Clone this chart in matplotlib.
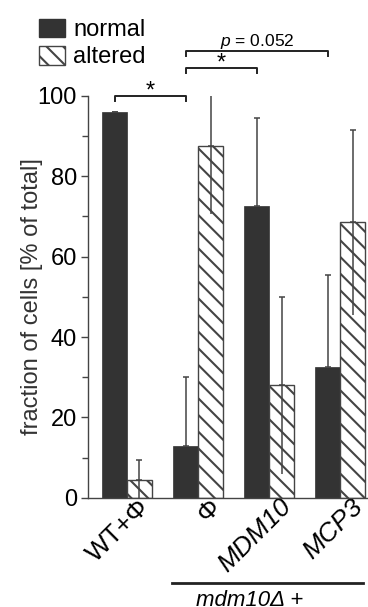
import matplotlib
matplotlib.use("Agg")
import matplotlib.pyplot as plt
import numpy as np
from matplotlib.patches import Patch

# --- DATA ---
groups = ["WT+Φ", "Φ", "MDM10", "MCP3"]
normal = [96, 13, 72.5, 32.5]
altered = [4.5, 87.5, 28, 68.5]
normal_err = [0, 17, 22, 23]
altered_err = [5, 17, 22, 23]

plt.rcParams['font.family'] = ['Liberation Sans', 'DejaVu Sans']
plt.rcParams['mathtext.fontset'] = 'custom'
plt.rcParams['mathtext.it'] = 'Liberation Sans:italic'
plt.rcParams['mathtext.rm'] = 'Liberation Sans'
plt.rcParams['hatch.linewidth'] = 1.5

fig = plt.figure(figsize=(3.68, 6.07), dpi=100)
ax = fig.add_axes([0.239, 0.18, 0.761, 0.662])

x = np.arange(len(groups))
w = 0.35
dark = "#333333"
edge = "#444444"
HATCH = "\\\\"

ax.bar(x - w / 2, normal, w, color=dark, edgecolor=dark, linewidth=0.5, zorder=2)
ax.bar(x + w / 2, altered, w, color="white", edgecolor=edge, hatch=HATCH,
       linewidth=1.0, zorder=2)

# error bars: upper half with a cap; lower half only shows on the hatched bars
ne = np.array(normal_err)
ae = np.array(altered_err)
ax.errorbar(x - w / 2, normal, yerr=[np.zeros_like(ne), ne], fmt="none", ecolor="#444444",
            elinewidth=1.1, capsize=2, capthick=1.1, zorder=3)
ax.errorbar(x + w / 2, altered, yerr=[np.zeros_like(ae), ae], fmt="none", ecolor="#444444",
            elinewidth=1.1, capsize=2, capthick=1.1, zorder=3)
ax.errorbar(x + w / 2, altered, yerr=[ae, np.zeros_like(ae)], fmt="none", ecolor="#444444",
            elinewidth=1.1, capsize=0, zorder=3)

ax.set_xlim(-0.55, 3.39)
ax.set_ylim(0, 100)
ax.set_yticks([0, 20, 40, 60, 80, 100])
ax.set_yticks([10, 30, 50, 70, 90], minor=True)
ax.tick_params(axis="y", labelsize=17, length=5, width=1.0, color="#444444", pad=3)
ax.tick_params(axis="y", which="minor", length=4, width=1.0, color="#444444")
ax.set_ylabel("fraction of cells [% of total]", fontsize=17, color="#333333")
ax.yaxis.set_label_coords(-0.16, 0.5)

ax.set_xticks(x + 0.26)
ax.set_xticklabels(groups, rotation=45, ha="right", va="center",
                   rotation_mode="anchor", fontsize=19)
for lab in ax.get_xticklabels()[2:]:
    lab.set_style("italic")
ax.tick_params(axis="x", length=0, pad=4)

for s in ["top", "right"]:
    ax.spines[s].set_visible(False)
ax.spines["left"].set_bounds(0, 100)
for s in ["left", "bottom"]:
    ax.spines[s].set_color("#444444")
    ax.spines[s].set_linewidth(1.0)

# significance brackets
def bracket(x1, x2, y):
    ax.plot([x1, x1, x2, x2], [y - 1.3, y, y, y - 1.3], color="#222222",
            lw=1.4, clip_on=False)

bracket(x[0] - w / 2, x[1] - w / 2, 100)
ax.text((x[0] + x[1]) / 2 - w / 2, 99.6, "*", ha="center", va="baseline", fontsize=17)
bracket(x[1] - w / 2, x[2] - w / 2, 107)
ax.text((x[1] + x[2]) / 2 - w / 2, 106.6, "*", ha="center", va="baseline", fontsize=17)
bracket(x[1] - w / 2, x[3] - w / 2, 111.2)
ax.text((x[1] + x[3]) / 2 - w / 2, 112.3, r"$\it{p}$ = 0.052", ha="center",
        va="baseline", fontsize=12.5)

# strain annotation under the axis
ax.plot([0.63, 3.32], [-21.1, -21.1], color="#222222", lw=2, clip_on=False)
ax.text(1.73, -23.0, "mdm10Δ +", ha="center", va="top", fontsize=16, style="italic")

handles = [Patch(facecolor=dark, edgecolor=dark, label="normal"),
           Patch(facecolor="white", edgecolor=edge, hatch=HATCH, label="altered")]
fig.legend(handles=handles, loc="upper left", bbox_to_anchor=(0.08, 0.985),
           frameon=False, fontsize=17, handlelength=1.1, handleheight=0.85,
           handletextpad=0.35, labelspacing=0.2, borderaxespad=0)

fig.savefig("out.png", dpi=100)
